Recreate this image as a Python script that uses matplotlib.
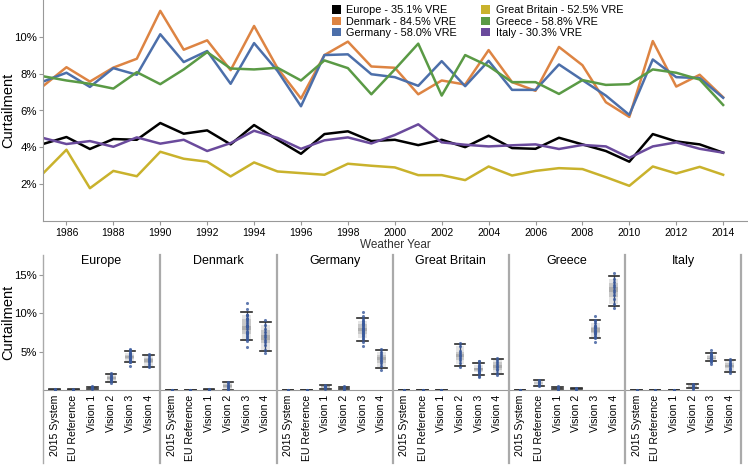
import numpy as np
import matplotlib
matplotlib.use("Agg")
import matplotlib.pyplot as plt
from matplotlib.lines import Line2D
from matplotlib.patches import Patch, Rectangle
from matplotlib.ticker import FuncFormatter

plt.rcParams['font.family'] = ['Liberation Sans', 'DejaVu Sans']

years = list(range(1985, 2015))

# curtailment (%) per weather year, Vision 3
europe = [4.18, 4.56, 3.91, 4.45, 4.41, 5.32, 4.74, 4.92, 4.16, 5.21,
          4.41, 3.65, 4.72, 4.87, 4.34, 4.41, 4.12, 4.41, 4.01, 4.63,
          3.96, 3.92, 4.52, 4.16, 3.80, 3.22, 4.72, 4.32, 4.16, 3.71]
denmark = [7.32, 8.35, 7.57, 8.33, 8.81, 11.41, 9.30, 9.81, 8.19, 10.59,
           8.30, 6.65, 9.01, 9.74, 8.39, 8.32, 6.88, 7.63, 7.41, 9.28,
           7.54, 7.07, 9.45, 8.46, 6.45, 5.65, 9.77, 7.30, 7.94, 6.72]
germany = [7.57, 8.05, 7.28, 8.30, 7.94, 10.14, 8.63, 9.23, 7.45, 9.66,
           8.15, 6.23, 9.01, 9.05, 7.97, 7.81, 7.34, 8.68, 7.32, 8.70,
           7.12, 7.12, 8.50, 7.65, 6.81, 5.76, 8.77, 7.81, 7.76, 6.69]
great_britain = [2.58, 3.87, 1.78, 2.72, 2.43, 3.76, 3.38, 3.22, 2.42, 3.18,
                 2.69, 2.60, 2.51, 3.11, 3.00, 2.91, 2.49, 2.49, 2.22, 2.96,
                 2.47, 2.72, 2.87, 2.82, 2.38, 1.91, 2.96, 2.58, 2.94, 2.51]
greece = [7.86, 7.63, 7.45, 7.19, 8.08, 7.43, 8.23, 9.17, 8.28, 8.23,
          8.32, 7.63, 8.72, 8.30, 6.88, 8.23, 9.63, 6.81, 9.01, 8.41,
          7.54, 7.54, 6.90, 7.65, 7.39, 7.43, 8.23, 8.05, 7.68, 6.30]
italy = [4.51, 4.18, 4.34, 4.03, 4.54, 4.20, 4.41, 3.80, 4.23, 4.90,
         4.51, 3.92, 4.38, 4.54, 4.21, 4.67, 5.25, 4.27, 4.14, 4.05,
         4.11, 4.16, 3.91, 4.13, 4.05, 3.43, 4.05, 4.27, 3.92, 3.71]

regions = ["Europe", "Denmark", "Germany", "Great Britain", "Greece", "Italy"]
vre = ["35.1%", "84.5%", "58.0%", "52.5%", "58.8%", "30.3%"]
colors = ["#000000", "#DD8443", "#4C6FAA", "#C9B22C", "#5A9A45", "#6A4A9C"]
series = [europe, denmark, germany, great_britain, greece, italy]

scenarios = ["2015 System", "EU Reference", "Vision 1", "Vision 2", "Vision 3", "Vision 4"]

# other scenarios: values
europe_other = {
    "2015 System": [0.05, 0.08, 0.1, 0.12, 0.15],
    "EU Reference": [0.04, 0.06, 0.08, 0.1, 0.12],
    "Vision 1": [0.2, 0.25, 0.3, 0.35, 0.4, 0.45, 0.5],
    "Vision 2": [1.0, 1.15, 1.3, 1.45, 1.55, 1.65, 1.75, 1.85, 2.0, 2.2],
    "Vision 4": [3.0, 3.2, 3.45, 3.65, 3.8, 3.95, 4.1, 4.25, 4.45, 4.75],
}
denmark_other = {
    "2015 System": [0.01, 0.02, 0.03],
    "EU Reference": [0.01, 0.02, 0.03],
    "Vision 1": [0.05, 0.08, 0.1, 0.12, 0.15],
    "Vision 2": [0.05, 0.15, 0.3, 0.45, 0.6, 0.75, 0.9, 1.1],
    "Vision 4": [4.8, 5.3, 5.9, 6.3, 6.6, 6.9, 7.2, 7.6, 8.0, 8.5, 9.2],
}
germany_other = {
    "2015 System": [0.01, 0.02, 0.03],
    "EU Reference": [0.01, 0.02, 0.03],
    "Vision 1": [0.2, 0.3, 0.4, 0.5, 0.6, 0.7],
    "Vision 2": [0.1, 0.2, 0.3, 0.4, 0.5],
    "Vision 4": [2.65, 3.1, 3.5, 3.8, 4.0, 4.2, 4.4, 4.7, 5.0, 5.35],
}
great_britain_other = {
    "2015 System": [0.03, 0.05, 0.08],
    "EU Reference": [0.01, 0.02, 0.03],
    "Vision 1": [0.01, 0.02, 0.03],
    "Vision 2": [3.0, 3.5, 3.9, 4.2, 4.4, 4.6, 4.8, 5.1, 5.7, 6.2],
    "Vision 4": [2.0, 2.3, 2.6, 2.8, 3.0, 3.2, 3.4, 3.7, 4.0, 4.2],
}
greece_other = {
    "2015 System": [0.03, 0.05, 0.08],
    "EU Reference": [0.5, 0.7, 0.85, 0.95, 1.05, 1.15, 1.35],
    "Vision 1": [0.1, 0.2, 0.3, 0.4, 0.5],
    "Vision 2": [0.1, 0.15, 0.2, 0.25, 0.3],
    "Vision 4": [10.7, 11.2, 11.9, 12.4, 12.8, 13.1, 13.4, 13.7, 14.1, 14.5, 15.25],
}
italy_other = {
    "2015 System": [0.01, 0.02],
    "EU Reference": [0.01, 0.02],
    "Vision 1": [0.03, 0.05, 0.08],
    "Vision 2": [0.2, 0.35, 0.5, 0.6, 0.7, 0.8],
    "Vision 4": [2.3, 2.6, 2.8, 2.95, 3.1, 3.25, 3.4, 3.6, 3.8, 4.1],
}
others = [europe_other, denmark_other, germany_other,
          great_britain_other, greece_other, italy_other]

W, H = 748, 465
fig = plt.figure(figsize=(W / 100, H / 100), dpi=100)
pct = FuncFormatter(lambda v, p: "%d%%" % v)
spine_col = "#999999"

# ---- top: line chart
ax = fig.add_axes([43 / W, 1 - 221 / H, (W - 43) / W, 221 / H])
for name, v, s, c in zip(regions, vre, series, colors):
    ax.plot(years, s, color=c, lw=1.8)
ax.set_xlim(1985, 2015.06)
ax.set_ylim(0, 12)
ax.set_yticks([2, 4, 6, 8, 10])
ax.yaxis.set_major_formatter(pct)
ax.set_xticks(range(1986, 2015, 2))
for s in ["top", "right"]:
    ax.spines[s].set_visible(False)
for s in ["left", "bottom"]:
    ax.spines[s].set_color(spine_col)
ax.tick_params(axis="y", labelsize=8.2, color=spine_col, length=3, pad=1.5)
ax.tick_params(axis="x", labelsize=7.5, color=spine_col, length=3, pad=2)
ax.set_xlabel("Weather Year", fontsize=8.5, color="#333333", labelpad=1)
ax.set_ylabel("Curtailment", fontsize=10.5)
ax.yaxis.set_label_coords(-28 / 705, 0.5)
handles = [Patch(facecolor=c, edgecolor="none") for c in colors]
labels = ["%s - %s VRE" % (n, v) for n, v in zip(regions, vre)]
ax.legend(handles, labels, ncol=2, loc="upper left", bbox_to_anchor=(0.402, 1.0),
          frameon=False, fontsize=7.8, handlelength=0.85, handleheight=0.85,
          handletextpad=0.5, labelspacing=0.1, columnspacing=2.2, borderpad=0)

# ---- bottom: facets of box plots
edges = [43, 160, 276.5, 392.5, 508.5, 625, 741]
for i, name in enumerate(regions):
    x0 = edges[i]
    bx = fig.add_axes([x0 / W, 1 - 390.3 / H, (edges[i + 1] - x0) / W, 135.3 / H])
    for j, sc in enumerate(scenarios):
        vals = np.array(series[i] if sc == "Vision 3" else others[i][sc])
        p = np.percentile(vals, [5, 10, 25, 40, 50, 60, 75, 90, 95])
        for lo, hi, a in [(p[1], p[7], 0.22), (p[2], p[6], 0.32), (p[3], p[5], 0.42)]:
            bx.add_patch(Rectangle((j - 0.24, lo), 0.48, max(hi - lo, 0.08),
                                   facecolor="#8c8c8c", alpha=a, lw=0))
        bx.plot([j, j], [p[0], p[8]], color="#3b4f7a", lw=1.0)
        for q in (p[0], p[8]):
            bx.plot([j - 0.28, j + 0.28], [q, q], color="#2b2b2b", lw=1.2)
        bx.scatter(np.full(len(vals), j), vals, s=5, color="#3a5a9c",
                   alpha=0.8, lw=0, zorder=3)
    bx.set_xlim(-0.62, 5.6)
    bx.set_ylim(0, 17.6)
    bx.set_xticks(range(len(scenarios)))
    bx.set_xticklabels(scenarios, rotation=90, fontsize=7.6)
    bx.tick_params(axis="x", length=0, pad=3)
    for s in ["top", "right", "left"]:
        bx.spines[s].set_visible(False)
    bx.spines["bottom"].set_color(spine_col)
    bx.patch.set_alpha(0)
    bx.text(0.5, 1 - 6 / 135.3, name, transform=bx.transAxes, fontsize=9,
            ha="center", va="center")
    if i == 0:
        bx.set_yticks([5, 10, 15])
        bx.yaxis.set_major_formatter(pct)
        bx.tick_params(axis="y", labelsize=8.2, color=spine_col, length=3, pad=1.5)
        bx.set_ylabel("Curtailment", fontsize=10.5)
        bx.yaxis.set_label_coords(-28 / 117, 0.5)
    else:
        bx.set_yticks([])

for k, x in enumerate(edges):
    fig.add_artist(Line2D([x / W, x / W], [1 - 255 / H, 1 - 463 / H],
                          color="#aaaaaa", lw=1.0 if k == 0 else 1.6))

fig.savefig("out.png", dpi=100)
